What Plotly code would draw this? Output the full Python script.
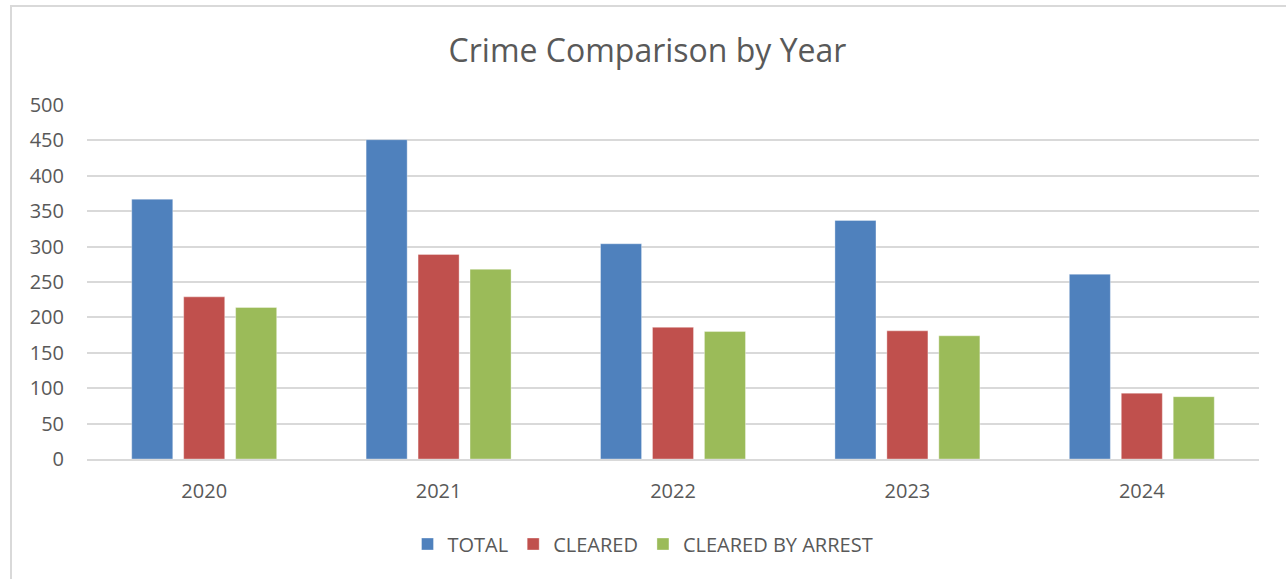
import plotly.graph_objects as go

# Yearly crime counts
years = ["2020", "2021", "2022", "2023", "2024"]
total = [367, 451, 304, 337, 261]
cleared = [229, 289, 186, 181, 93]
cleared_by_arrest = [214, 268, 180, 174, 88]

series_names = ["TOTAL", "CLEARED", "CLEARED BY ARREST"]
series_colors = ["#4F81BD", "#C0504D", "#9BBB59"]
y_ticks = [0, 50, 100, 150, 200, 250, 300, 350, 400, 450, 500]

W, H = 1286, 579
M_L, M_R, M_T, M_B = 87, 27, 105, 120
TEXT = "#595959"
GRID = "#d9d9d9"
FONT = "Open Sans"

fig = go.Figure()
for name, vals, col in zip(series_names, [total, cleared, cleared_by_arrest], series_colors):
    fig.add_trace(go.Bar(
        x=years, y=vals, name=name,
        marker=dict(color=col, line=dict(color="rgba(255,255,255,0.35)", width=1)),
    ))

# Outer chart frame (open on the right and bottom edges of the page)
pw = W - M_L - M_R
ph = H - M_T - M_B
def px_x(p):
    return (p - M_L) / pw
def px_y(p):
    return (H - M_B - p) / ph

fig.add_shape(type="rect", xref="paper", yref="paper",
              x0=px_x(11), x1=px_x(W + 10), y0=px_y(H + 10), y1=px_y(6),
              line=dict(color=GRID, width=2), fillcolor="rgba(0,0,0,0)", layer="below")

fig.update_layout(
    width=W, height=H,
    margin=dict(l=M_L, r=M_R, t=M_T, b=M_B),
    paper_bgcolor="white", plot_bgcolor="white",
    barmode="group", bargap=0.335, bargroupgap=0.21,
    font=dict(family=FONT, color=TEXT, size=20),
    title=dict(text="Crime Comparison by Year", x=0.5035, xanchor="center",
               y=1 - 51 / H, yanchor="middle", yref="container",
               font=dict(family=FONT, size=32, color=TEXT)),
    showlegend=True,
    legend=dict(orientation="h", x=0.5, xanchor="center", xref="container",
                y=1 - 544 / H, yanchor="middle", yref="container",
                font=dict(family=FONT, size=20, color=TEXT),
                itemwidth=30, traceorder="normal", tracegroupgap=0),
    xaxis=dict(showgrid=False, showline=True, linecolor=GRID, linewidth=1.5,
               ticks="", tickfont=dict(size=20, color=TEXT), ticklabelstandoff=13),
    yaxis=dict(range=[0, 500], tickvals=y_ticks, showgrid=True, gridcolor=GRID,
               gridwidth=1.5, zeroline=False, showline=False, ticks="",
               tickfont=dict(size=20, color=TEXT), ticklabelstandoff=22),
)

fig.write_html("out.html")
